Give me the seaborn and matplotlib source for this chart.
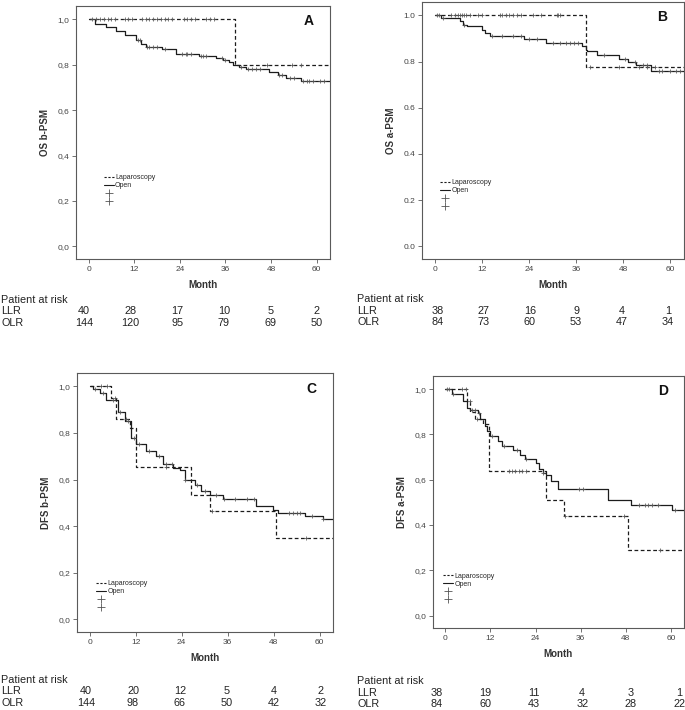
import matplotlib
matplotlib.use("Agg")
import matplotlib.pyplot as plt
from matplotlib.lines import Line2D
from matplotlib.ticker import FuncFormatter
import numpy as np
import seaborn as sns

RISK_MONTHS = [0, 12, 24, 36, 48, 60]
X_END = 63.5

# Panel A: OS before PSM
A_LAP_T = [0, 38.4]
A_LAP_S = [1.0, 0.80]
A_LAP_C = [1, 2, 3, 4, 5, 6, 7, 9.5, 10.5, 11.5, 14, 15, 16, 17, 18, 19, 20, 21, 22,
           25, 26, 27, 28, 31, 32, 33, 47, 53.5, 56]
A_OPEN_T = [0, 1.8, 4.5, 7.1, 9.7, 12.4, 13.7, 15, 19.4, 22.9, 29, 33.4, 35.3, 36.9,
            38, 39.5, 41.3, 47.4, 49.7, 51.8, 55.8]
A_OPEN_S = [1.0, 0.98, 0.965, 0.95, 0.93, 0.91, 0.89, 0.877, 0.87, 0.848, 0.84, 0.829,
            0.819, 0.81, 0.797, 0.79, 0.78, 0.768, 0.756, 0.741, 0.73]
A_OPEN_C = [13, 13.5, 15.5, 16, 17, 18, 20, 24.5, 25.5, 26, 27, 29.5, 30, 31, 35, 36,
            40, 42, 43, 44, 45, 50, 51, 53, 54, 56.5, 57.5, 58, 59, 61, 62]
A_RISK_LLR = [40, 28, 17, 10, 5, 2]
A_RISK_OLR = [144, 120, 95, 79, 69, 50]

# Panel B: OS after PSM
B_LAP_T = [0, 38.4]
B_LAP_S = [1.0, 0.776]
B_LAP_C = [0.5, 1, 4, 5, 6, 6.5, 7, 7.5, 8, 9, 11, 12, 16.5, 17, 18, 19, 20, 21, 22,
           25, 27, 31, 31.5, 32, 39.5, 47, 52, 54, 56]
B_OPEN_T = [0, 1.6, 6.3, 7.2, 8.1, 12, 12.8, 14, 22.8, 28.3, 37.4, 38.4, 38.8, 41.3,
            47, 49.1, 51.3, 55.2]
B_OPEN_S = [1.0, 0.987, 0.976, 0.96, 0.952, 0.937, 0.923, 0.912, 0.897, 0.88, 0.869,
            0.852, 0.845, 0.829, 0.812, 0.798, 0.783, 0.758]
B_OPEN_C = [2, 7.5, 14.5, 17, 20, 22, 24, 26, 30, 32, 33.5, 34.5, 35.5, 36.5, 43, 48.5,
            51, 53, 54, 57, 58, 60, 61.5, 62.5]
B_RISK_LLR = [38, 27, 16, 9, 4, 1]
B_RISK_OLR = [84, 73, 60, 53, 47, 34]

# Panel C: DFS before PSM
C_LAP_T = [0, 5.5, 7.0, 10.5, 12.0, 26.5, 31.5, 48.5]
C_LAP_S = [1.0, 0.95, 0.86, 0.82, 0.655, 0.535, 0.467, 0.35]
C_LAP_C = [3, 4.5, 6.5, 9.5, 20, 32, 56.5]
C_OPEN_T = [0, 0.8, 2.6, 4.3, 7.4, 9.1, 10.9, 12.2, 14.8, 17.4, 19.1, 21.7, 23.5, 24.8,
            27.4, 29.1, 31.3, 34.8, 43.5, 47.8, 49.1, 56.1, 60.9]
C_OPEN_S = [1.0, 0.99, 0.97, 0.94, 0.89, 0.853, 0.78, 0.752, 0.723, 0.701, 0.665, 0.651,
            0.643, 0.60, 0.578, 0.549, 0.535, 0.516, 0.487, 0.47, 0.458, 0.443, 0.429]
C_OPEN_C = [1.5, 3.5, 6, 8, 10, 11.5, 13, 15.5, 18, 20, 21.5, 25, 28, 30, 33, 35, 38,
            41, 43, 52, 53, 54, 55, 58, 61]
C_RISK_LLR = [40, 20, 12, 5, 4, 2]
C_RISK_OLR = [144, 98, 66, 50, 42, 32]

# Panel D: DFS after PSM
D_LAP_T = [0, 5.7, 6.6, 8.0, 10.1, 11.5, 26.9, 31.5, 48.5]
D_LAP_S = [1.0, 0.947, 0.90, 0.87, 0.844, 0.64, 0.512, 0.438, 0.29]
D_LAP_C = [0.5, 4.5, 5.5, 6.5, 8.5, 17, 17.8, 18.5, 19.5, 20.3, 21.5, 31.7, 47.6, 57]
D_OPEN_T = [0, 1.8, 4.8, 5.7, 6.6, 8.8, 9.3, 10.6, 11, 11.9, 14.1, 15, 18.1, 19.8, 21.1,
            24.2, 24.9, 26, 26.9, 28.2, 30, 43.2, 49.4, 60.4]
D_OPEN_S = [1.0, 0.977, 0.947, 0.917, 0.91, 0.895, 0.866, 0.836, 0.814, 0.792, 0.77,
            0.748, 0.733, 0.711, 0.693, 0.674, 0.649, 0.63, 0.62, 0.596, 0.56, 0.509,
            0.49, 0.468]
D_OPEN_C = [1, 2, 7, 8, 9, 12.5, 15.5, 19, 21.5, 26, 35.5, 36.5, 51.5, 53, 54, 55,
            56.5, 61]
D_RISK_LLR = [38, 19, 11, 4, 3, 1]
D_RISK_OLR = [84, 60, 43, 32, 28, 22]

LINE_COLOR = "#1c1c1c"
CENSOR_COLOR = "#555555"
SPINE_COLOR = "#5a5a5a"
TEXT_COLOR = "#333333"

W, H = 685, 710


def step_value(times, surv, t):
    idx = np.searchsorted(times, t, side="right") - 1
    return np.asarray(surv)[idx]


def draw_curve(ax, times, surv, censor, dashed):
    t = list(times) + [X_END]
    s = list(surv) + [surv[-1]]
    sns.lineplot(x=t, y=s, ax=ax, estimator=None, sort=False, drawstyle="steps-post",
                 color=LINE_COLOR, lw=0.9, linestyle=(0, (3, 2)) if dashed else "-")
    c = np.asarray(censor, dtype=float)
    sns.scatterplot(x=c, y=step_value(times, surv, c), ax=ax, marker="+", s=12,
                    color=CENSOR_COLOR, linewidth=0.55, zorder=3)


def px_axes(fig, left, top, right, bottom):
    return fig.add_axes([left / W, 1 - bottom / H, (right - left) / W, (bottom - top) / H])


def style_axes(ax, ylabel, letter, comma, legend_xy):
    ax.set_xlim(-3.3, X_END)
    ax.set_ylim(-0.055, 1.058)
    ax.set_xticks(RISK_MONTHS)
    ax.set_yticks(np.arange(0, 1.01, 0.2))
    sep = "," if comma else "."
    ax.yaxis.set_major_formatter(FuncFormatter(lambda v, p: f"{v:.1f}".replace(".", sep)))
    ax.tick_params(direction="out", length=3, width=0.6, colors=SPINE_COLOR,
                   labelsize=6, labelcolor="#444444", pad=2)
    for sp in ax.spines.values():
        sp.set_visible(True)
        sp.set_color(SPINE_COLOR)
        sp.set_linewidth(0.8)
    ax.set_xlabel("Month", fontsize=7, fontweight="bold", color=TEXT_COLOR, labelpad=5)
    ax.set_ylabel(ylabel, fontsize=7, fontweight="bold", color=TEXT_COLOR, labelpad=5)
    ax.text(0.915, 0.94, letter, transform=ax.transAxes, fontsize=10, fontweight="bold",
            ha="center", va="center", color="#111111")
    handles = [
        Line2D([], [], color=LINE_COLOR, lw=0.8, linestyle=(0, (2, 1.5))),
        Line2D([], [], color=LINE_COLOR, lw=0.8),
        Line2D([], [], color=CENSOR_COLOR, lw=0, marker="+", markersize=6, markeredgewidth=0.6),
        Line2D([], [], color=CENSOR_COLOR, lw=0, marker="+", markersize=6, markeredgewidth=0.6),
    ]
    ax.legend(handles, ["Laparoscopy", "Open", "", ""], loc="upper left",
              bbox_to_anchor=legend_xy, frameon=False, fontsize=5, handlelength=1.4,
              handletextpad=0.2, labelspacing=0.15, borderaxespad=0, borderpad=0)


def risk_table(fig, x_text, y_top, x0, step, llr, olr, gap=11.5):
    kw = dict(fontsize=7.8, color="#222222", va="center")
    fig.text(x_text / W, 1 - y_top / H, "Patient at risk", ha="left", **kw)
    fig.text(x_text / W, 1 - (y_top + gap) / H, "LLR", ha="left", **kw)
    fig.text(x_text / W, 1 - (y_top + 2 * gap) / H, "OLR", ha="left", **kw)
    for i, (a, b) in enumerate(zip(llr, olr)):
        x = (x0 + i * step) / W
        fig.text(x, 1 - (y_top + gap) / H, str(a), ha="center", **kw)
        fig.text(x, 1 - (y_top + 2 * gap) / H, str(b), ha="center", **kw)


sns.set_theme(style="ticks")
plt.rcParams["font.family"] = ["Liberation Sans", "DejaVu Sans"]

fig = plt.figure(figsize=(W / 100, H / 100), dpi=100)

panels = [
    ((76, 6, 330, 259), "OS b-PSM", "A", True, (0.11, 0.335),
     (A_LAP_T, A_LAP_S, A_LAP_C), (A_OPEN_T, A_OPEN_S, A_OPEN_C)),
    ((422, 2, 684, 259), "OS a-PSM", "B", False, (0.07, 0.31),
     (B_LAP_T, B_LAP_S, B_LAP_C), (B_OPEN_T, B_OPEN_S, B_OPEN_C)),
    ((77, 373, 333, 632), "DFS b-PSM", "C", True, (0.075, 0.20),
     (C_LAP_T, C_LAP_S, C_LAP_C), (C_OPEN_T, C_OPEN_S, C_OPEN_C)),
    ((433, 376, 684, 628), "DFS a-PSM", "D", True, (0.04, 0.22),
     (D_LAP_T, D_LAP_S, D_LAP_C), (D_OPEN_T, D_OPEN_S, D_OPEN_C)),
]

for box, ylabel, letter, comma, leg_xy, lap, opn in panels:
    ax = px_axes(fig, *box)
    ax.set_facecolor("white")
    draw_curve(ax, *opn, dashed=False)
    draw_curve(ax, *lap, dashed=True)
    style_axes(ax, ylabel, letter, comma, leg_xy)

risk_table(fig, 1, 300, 84, 46.6, A_RISK_LLR, A_RISK_OLR)
risk_table(fig, 357, 299, 438, 46.0, B_RISK_LLR, B_RISK_OLR)
risk_table(fig, 1, 680, 86, 47.0, C_RISK_LLR, C_RISK_OLR)
risk_table(fig, 357, 681, 437, 48.4, D_RISK_LLR, D_RISK_OLR)

fig.savefig("out.png", dpi=100, facecolor="white")
